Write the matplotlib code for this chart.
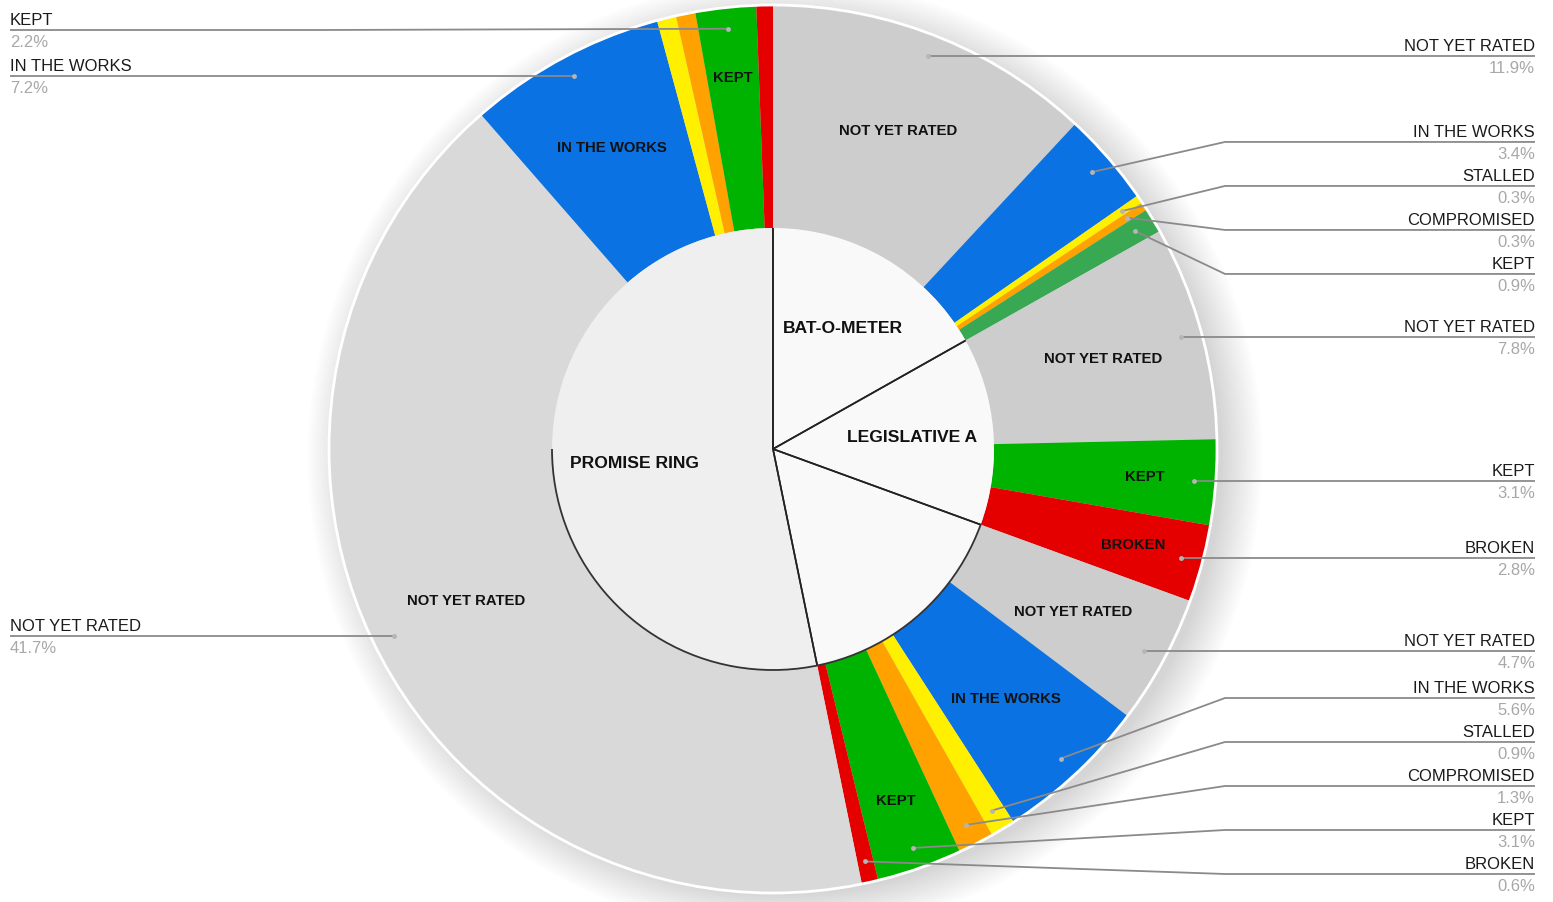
import numpy as np
import matplotlib
matplotlib.use("Agg")
import matplotlib.pyplot as plt
from matplotlib.patches import Circle, Arc

plt.rcParams['font.family'] = ['Liberation Sans', 'DejaVu Sans']

# ---------------- data ----------------
groups = ["BAT-O-METER", "LEGISLATIVE A", "", "PROMISE RING"]

bat_status = ["NOT YET RATED", "IN THE WORKS", "STALLED", "COMPROMISED", "KEPT"]
bat_pct = [11.9, 3.4, 0.3, 0.3, 0.9]

leg_status = ["NOT YET RATED", "KEPT", "BROKEN"]
leg_pct = [7.8, 3.1, 2.8]

third_status = ["NOT YET RATED", "IN THE WORKS", "STALLED", "COMPROMISED", "KEPT", "BROKEN"]
third_pct = [4.7, 5.6, 0.9, 1.3, 3.1, 0.6]

promise_status = ["NOT YET RATED", "IN THE WORKS", "STALLED", "COMPROMISED", "KEPT", "BROKEN"]
promise_pct = [41.7, 7.2, 0.7, 0.7, 2.2, 0.6]

# which slices get an outside label / an inside label (style flags)
bat_out = [1, 1, 1, 1, 1];        bat_in = [1, 0, 0, 0, 0]
leg_out = [1, 1, 1];              leg_in = [1, 1, 1]
third_out = [1, 1, 1, 1, 1, 1];   third_in = [1, 1, 0, 0, 1, 0]
promise_out = [1, 1, 0, 0, 1, 0]; promise_in = [1, 1, 0, 0, 1, 0]

# ---------------- style ----------------
status_colors = {
    "NOT YET RATED": "#cdcdcd",
    "IN THE WORKS": "#0a72e2",
    "STALLED": "#fff000",
    "COMPROMISED": "#ffa200",
    "KEPT": "#00b300",
    "BROKEN": "#e50000",
}

W, H = 1553, 902
fig = plt.figure(figsize=(W / 100, H / 100), dpi=100)
ax = fig.add_axes([0, 0, 1, 1])

cx, cy = 773, H - 449
R = 444
Ri = 221

all_status = [bat_status, leg_status, third_status, promise_status]
all_pct = [bat_pct, leg_pct, third_pct, promise_pct]
all_out = [bat_out, leg_out, third_out, promise_out]
all_in = [bat_in, leg_in, third_in, promise_in]

flat_vals, flat_cols, flat_status, flat_out, flat_in = [], [], [], [], []
for gi, (sts, pcts, outs, ins) in enumerate(zip(all_status, all_pct, all_out, all_in)):
    for s, p, o, i in zip(sts, pcts, outs, ins):
        flat_vals.append(p)
        c = status_colors[s]
        if gi == 0 and s == "KEPT":
            c = "#38a853"
        if gi == 3 and s == "NOT YET RATED":
            c = "#d9d9d9"
        flat_cols.append(c)
        flat_status.append(s)
        flat_out.append(o)
        flat_in.append(i)

group_totals = [sum(p) for p in all_pct]

# ---------------- shadow ----------------
for k in range(0, 40, 3):
    ax.add_patch(Circle((cx + 12, cy - 8), R + k - 6, color="black", alpha=0.011,
                        lw=0, zorder=0))

# ---------------- outer ring ----------------
outer_wedges, _ = ax.pie(flat_vals, colors=flat_cols, radius=R, center=(cx, cy),
                         startangle=90, counterclock=False, frame=True,
                         wedgeprops=dict(width=R - Ri, edgecolor="none", linewidth=0))
for w in outer_wedges:
    w.set_zorder(2)
ax.add_patch(Circle((cx, cy), R, fill=False, ec="white", lw=2, zorder=3))

# ---------------- inner pie ----------------
inner_cols = ["#f9f9f9", "#f9f9f9", "#f9f9f9", "#efefef"]
inner_wedges, _ = ax.pie(group_totals, colors=inner_cols, radius=Ri, center=(cx, cy),
                         startangle=90, counterclock=False, frame=True,
                         wedgeprops=dict(edgecolor="none", linewidth=0))
for w in inner_wedges:
    w.set_zorder(4)
    for th in (w.theta1, w.theta2):
        t = np.deg2rad(th)
        ax.plot([cx, cx + Ri * np.cos(t)], [cy, cy + Ri * np.sin(t)],
                color="#222222", lw=1.2, zorder=5, solid_capstyle="butt")
ax.add_patch(Arc((cx, cy), 2 * Ri, 2 * Ri, theta1=180, theta2=340,
                 color="#333333", lw=1.3, zorder=5))

for w, name in zip(inner_wedges, groups):
    if not name:
        continue
    t = np.deg2rad((w.theta1 + w.theta2) / 2)
    ax.text(cx + 0.63 * Ri * np.cos(t), cy + 0.63 * Ri * np.sin(t), name,
            ha="center", va="center", fontsize=12.6, fontweight="bold",
            color="#111111", zorder=6)

# ---------------- inside labels on outer ring ----------------
for w, s, p, fi in zip(outer_wedges, flat_status, flat_vals, flat_in):
    if not fi:
        continue
    t = np.deg2rad((w.theta1 + w.theta2) / 2)
    rr = 0.77 * R if p >= 4 else 0.84 * R
    ax.text(cx + rr * np.cos(t), cy + rr * np.sin(t), s, ha="center", va="center",
            fontsize=10.7, fontweight="bold", color="#111111", zorder=6)

# ---------------- outside labels ----------------
def spread(desired, gap, lo, hi):
    order = list(np.argsort(desired))
    clusters = [[desired[i]] for i in order]

    def start_of(cl):
        n = len(cl)
        st = np.mean(cl) - gap * (n - 1) / 2
        return max(lo, min(st, hi - gap * (n - 1)))

    changed = True
    while changed:
        changed = False
        starts = [start_of(c) for c in clusters]
        for i in range(len(clusters) - 1):
            end_i = starts[i] + gap * (len(clusters[i]) - 1)
            if starts[i + 1] < end_i + gap - 1e-9:
                clusters[i] = clusters[i] + clusters[i + 1]
                del clusters[i + 1]
                changed = True
                break
    pos = []
    for c in clusters:
        st = start_of(c)
        pos += [st + gap * j for j in range(len(c))]
    out = [0] * len(desired)
    for k, i in enumerate(order):
        out[i] = pos[k]
    return out

ra = 0.952 * R
items = {"L": [], "R": []}
for w, s, p, fo in zip(outer_wedges, flat_status, flat_vals, flat_out):
    if not fo:
        continue
    t = np.deg2rad((w.theta1 + w.theta2) / 2)
    axp = cx + ra * np.cos(t)
    ayp = cy + ra * np.sin(t)
    side = "R" if axp > cx else "L"
    items[side].append((axp, ayp, s, p))

line_col = "#8a8a8a"
name_col = "#1a1a1a"
pct_col = "#a8a8a8"
gap = 44
for side, lst in items.items():
    if not lst:
        continue
    desired = [H - it[1] for it in lst]          # pixel-from-top
    ly = spread(desired, gap, 30, 874)
    for (axp, ayp, s, p), lyp in zip(lst, ly):
        yl = H - lyp
        if side == "R":
            xt, elbow, ha = 1535, 1225, "right"
        else:
            xt, elbow, ha = 10, 2 * cx - 1225, "left"
        ax.plot([axp, elbow, xt], [ayp, yl, yl], color=line_col, lw=1.3, zorder=7,
                solid_capstyle="butt")
        ax.plot([axp], [ayp], "o", ms=3.5, color="#b5b5b5", zorder=8, mec="none")
        ax.text(xt, yl + 5, s, ha=ha, va="baseline", fontsize=12, color=name_col,
                zorder=8)
        ax.text(xt, yl - 17, f"{p:.1f}%", ha=ha, va="baseline", fontsize=12,
                color=pct_col, zorder=8)

ax.set_xlim(0, W)
ax.set_ylim(0, H)
ax.set_aspect("auto")
ax.axis("off")
fig.savefig("out.png", dpi=100, facecolor="white")
